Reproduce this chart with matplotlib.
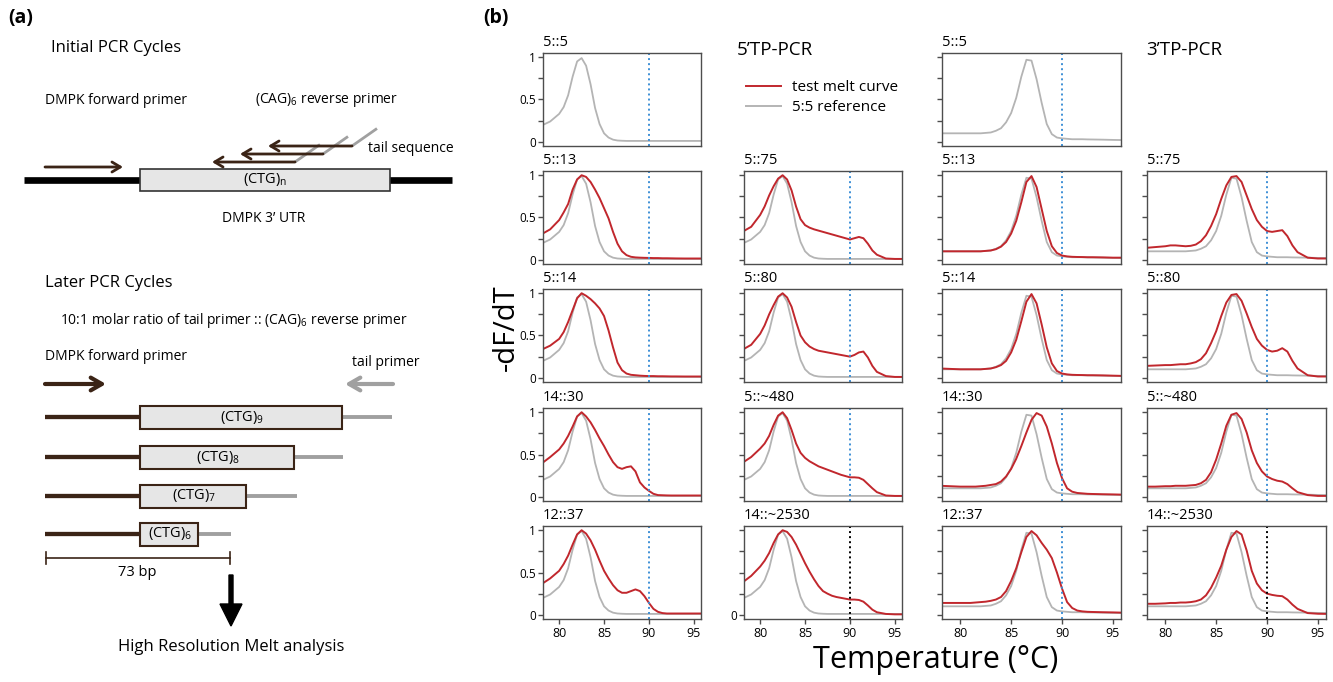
import matplotlib.pyplot as plt
from matplotlib.patches import Rectangle, FancyArrow
from matplotlib.lines import Line2D

plt.rcParams['font.family'] = ['Open Sans', 'DejaVu Sans']
plt.rcParams['mathtext.fontset'] = 'custom'
plt.rcParams['mathtext.rm'] = 'Open Sans'
plt.rcParams['mathtext.it'] = 'Open Sans:italic'

# melt curve data (-dF/dT, normalised)
temps = [78, 79, 80, 80.5, 81, 81.5, 82, 82.5, 83, 83.5, 84, 84.5, 85, 85.5, 86, 86.5,
         87, 87.5, 88, 88.5, 89, 89.5, 90, 90.5, 91, 91.5, 92, 92.5, 93, 94, 95, 96]

# 5:5 references
ref_5p = [0.19, 0.24, 0.33, 0.41, 0.55, 0.77, 0.95, 0.99, 0.90, 0.68, 0.40, 0.21, 0.10, 0.05, 0.025, 0.015,
          0.012, 0.01, 0.01, 0.01, 0.01, 0.01, 0.01, 0.01, 0.01, 0.01, 0.01, 0.01, 0.01, 0.01, 0.01, 0.01]
ref_3p = [0.10, 0.10, 0.10, 0.10, 0.10, 0.10, 0.10, 0.105, 0.11, 0.13, 0.16, 0.23, 0.34, 0.52, 0.77, 0.97,
          0.96, 0.74, 0.46, 0.21, 0.09, 0.05, 0.04, 0.035, 0.03, 0.03, 0.03, 0.028, 0.027, 0.025, 0.022, 0.02]

# 5'TP-PCR test curves
t5_13 = [0.30, 0.36, 0.47, 0.56, 0.66, 0.83, 0.95, 1.0, 0.98, 0.92, 0.83, 0.73, 0.61, 0.49, 0.33, 0.19,
         0.10, 0.055, 0.035, 0.028, 0.025, 0.023, 0.022, 0.02, 0.02, 0.018, 0.018, 0.017, 0.016, 0.015, 0.015, 0.015]
t5_14 = [0.33, 0.38, 0.46, 0.54, 0.66, 0.80, 0.94, 1.0, 0.97, 0.93, 0.88, 0.82, 0.73, 0.56, 0.36, 0.18,
         0.09, 0.05, 0.035, 0.03, 0.025, 0.022, 0.02, 0.02, 0.018, 0.018, 0.017, 0.016, 0.016, 0.015, 0.015, 0.015]
t14_30 = [0.39, 0.47, 0.56, 0.63, 0.72, 0.83, 0.95, 1.0, 0.95, 0.88, 0.79, 0.69, 0.60, 0.50, 0.41, 0.35,
          0.33, 0.35, 0.36, 0.30, 0.17, 0.11, 0.07, 0.035, 0.02, 0.018, 0.016, 0.015, 0.015, 0.015, 0.015, 0.015]
t12_37 = [0.36, 0.43, 0.52, 0.60, 0.70, 0.83, 0.95, 1.0, 0.96, 0.88, 0.77, 0.64, 0.52, 0.43, 0.35, 0.29,
          0.26, 0.26, 0.28, 0.30, 0.28, 0.22, 0.14, 0.07, 0.035, 0.02, 0.015, 0.015, 0.015, 0.015, 0.015, 0.015]
t5_75 = [0.33, 0.39, 0.53, 0.63, 0.76, 0.87, 0.96, 1.0, 0.95, 0.82, 0.63, 0.48, 0.41, 0.38, 0.36, 0.345,
         0.33, 0.315, 0.30, 0.285, 0.27, 0.255, 0.24, 0.255, 0.27, 0.255, 0.19, 0.11, 0.06, 0.015, 0.01, 0.01]
t5_80 = [0.33, 0.39, 0.52, 0.62, 0.75, 0.86, 0.96, 1.0, 0.95, 0.84, 0.66, 0.50, 0.42, 0.37, 0.34, 0.32,
         0.31, 0.30, 0.29, 0.28, 0.27, 0.26, 0.25, 0.27, 0.30, 0.31, 0.24, 0.14, 0.07, 0.02, 0.01, 0.01]
t5_480 = [0.40, 0.47, 0.57, 0.63, 0.72, 0.85, 0.96, 1.0, 0.93, 0.79, 0.63, 0.52, 0.46, 0.42, 0.39, 0.36,
          0.34, 0.32, 0.30, 0.28, 0.26, 0.245, 0.23, 0.23, 0.225, 0.20, 0.15, 0.10, 0.055, 0.015, 0.01, 0.01]
t14_2530 = [0.38, 0.46, 0.57, 0.64, 0.73, 0.85, 0.95, 1.0, 0.98, 0.92, 0.83, 0.72, 0.61, 0.51, 0.42, 0.34,
            0.28, 0.25, 0.225, 0.21, 0.20, 0.19, 0.18, 0.18, 0.175, 0.155, 0.11, 0.06, 0.03, 0.01, 0.005, 0.005]

# 3'TP-PCR test curves
u5_13 = [0.10, 0.10, 0.10, 0.10, 0.10, 0.10, 0.10, 0.105, 0.11, 0.125, 0.155, 0.21, 0.31, 0.46, 0.68, 0.92,
         0.99, 0.86, 0.60, 0.34, 0.16, 0.08, 0.05, 0.04, 0.035, 0.033, 0.032, 0.03, 0.03, 0.028, 0.025, 0.025]
u5_14 = [0.11, 0.105, 0.10, 0.10, 0.10, 0.10, 0.10, 0.105, 0.11, 0.125, 0.15, 0.20, 0.30, 0.45, 0.67, 0.90,
         0.99, 0.88, 0.63, 0.36, 0.17, 0.08, 0.05, 0.04, 0.035, 0.033, 0.032, 0.03, 0.03, 0.028, 0.025, 0.022]
u14_30 = [0.13, 0.125, 0.12, 0.12, 0.12, 0.12, 0.125, 0.13, 0.14, 0.15, 0.18, 0.24, 0.33, 0.45, 0.60, 0.76,
          0.91, 0.99, 0.96, 0.83, 0.63, 0.40, 0.22, 0.10, 0.06, 0.045, 0.04, 0.035, 0.033, 0.03, 0.028, 0.025]
u12_37 = [0.14, 0.14, 0.14, 0.14, 0.14, 0.145, 0.15, 0.155, 0.165, 0.18, 0.21, 0.28, 0.40, 0.55, 0.74, 0.92,
          0.99, 0.94, 0.85, 0.77, 0.67, 0.50, 0.31, 0.15, 0.08, 0.05, 0.04, 0.035, 0.033, 0.03, 0.028, 0.025]
u5_75 = [0.14, 0.15, 0.16, 0.17, 0.17, 0.165, 0.16, 0.165, 0.18, 0.22, 0.29, 0.40, 0.54, 0.72, 0.88, 0.98,
         0.99, 0.92, 0.76, 0.60, 0.47, 0.39, 0.34, 0.33, 0.34, 0.35, 0.28, 0.17, 0.09, 0.025, 0.015, 0.015]
u5_80 = [0.14, 0.145, 0.15, 0.15, 0.155, 0.16, 0.16, 0.17, 0.185, 0.22, 0.29, 0.41, 0.55, 0.73, 0.89, 0.98,
         0.99, 0.91, 0.76, 0.60, 0.46, 0.38, 0.33, 0.31, 0.32, 0.35, 0.31, 0.20, 0.11, 0.03, 0.015, 0.015]
u5_480 = [0.12, 0.12, 0.125, 0.125, 0.13, 0.13, 0.13, 0.135, 0.14, 0.16, 0.20, 0.29, 0.44, 0.63, 0.84, 0.97,
          0.99, 0.92, 0.76, 0.55, 0.40, 0.30, 0.24, 0.21, 0.19, 0.18, 0.15, 0.10, 0.055, 0.02, 0.01, 0.01]
u14_2530 = [0.13, 0.13, 0.135, 0.14, 0.14, 0.145, 0.145, 0.15, 0.16, 0.18, 0.23, 0.32, 0.44, 0.58, 0.77, 0.92,
            0.99, 0.95, 0.76, 0.52, 0.37, 0.29, 0.25, 0.235, 0.225, 0.22, 0.18, 0.12, 0.07, 0.02, 0.012, 0.01]

labels_a = ['5::13', '5::14', '14::30', '12::37']
labels_b = ['5::75', '5::80', '5::~480', '14::~2530']
curves_5p_a = [t5_13, t5_14, t14_30, t12_37]
curves_5p_b = [t5_75, t5_80, t5_480, t14_2530]
curves_3p_a = [u5_13, u5_14, u14_30, u12_37]
curves_3p_b = [u5_75, u5_80, u5_480, u14_2530]

RED = '#c1272d'
GREY = '#b4b4b4'
BLUE = '#3d8fd6'
BROWN = '#3b2416'
SPINE = '#4d4d4d'

W, H = 1333, 682
fig = plt.figure(figsize=(W / 100, H / 100), dpi=100)


def px_axes(left, top, width, height):
    return fig.add_axes([left / W, 1 - (top + height) / H, width / W, height / H])


# ---------------- panel (b): melt curves ----------------
col_left = [543, 744, 942, 1147]
col_width = [158, 158, 179, 179]
row_top = [53, 171, 289, 408, 526]
row_h = 93


def draw_panel(row, col, label, curve, ref, cut_col):
    ax = px_axes(col_left[col], row_top[row], col_width[col], row_h)
    ax.plot(temps, ref, color=GREY, lw=1.3)
    if curve is not None:
        ax.plot(temps, curve, color=RED, lw=1.4)
    ax.axvline(90, color=cut_col, lw=1.4, ls=(0, (1, 1.6)))
    ax.set_xlim(78.2, 95.8)
    ax.set_ylim(-0.05, 1.05)
    ax.set_yticks([0, 0.25, 0.5, 0.75, 1])
    if col == 0:
        ax.set_yticklabels(['0', '', '0.5', '', '1'])
    elif row == 4 and col == 1:
        ax.set_yticklabels(['0', '', '', '', ''], fontsize=6)
    else:
        ax.set_yticklabels([])
    if row == 4:
        ax.set_xticks([80, 85, 90, 95])
    else:
        ax.set_xticks([])
    for s in ax.spines.values():
        s.set_color(SPINE)
        s.set_linewidth(1.0)
    ax.tick_params(axis='y', length=3.5, width=1, color=SPINE, labelsize=8.5, pad=1.5)
    ax.tick_params(axis='x', length=3.5, width=1, color=SPINE, labelsize=9, pad=2)
    ax.annotate(label, xy=(0, 1), xycoords='axes fraction', xytext=(0, 2),
                textcoords='offset points', ha='left', va='bottom', fontsize=10.5)
    return ax


draw_panel(0, 0, '5::5', None, ref_5p, BLUE)
draw_panel(0, 2, '5::5', None, ref_3p, BLUE)
for i in range(4):
    cut = 'black' if i == 3 else BLUE
    draw_panel(i + 1, 0, labels_a[i], curves_5p_a[i], ref_5p, BLUE)
    draw_panel(i + 1, 1, labels_b[i], curves_5p_b[i], ref_5p, cut)
    draw_panel(i + 1, 2, labels_a[i], curves_3p_a[i], ref_3p, BLUE)
    draw_panel(i + 1, 3, labels_b[i], curves_3p_b[i], ref_3p, cut)

fig.text(737 / W, 1 - 50 / H, '5\u2019TP-PCR', fontsize=13.5, ha='left', va='center')
fig.text(1146 / W, 1 - 50 / H, '3\u2019TP-PCR', fontsize=13.5, ha='left', va='center')

handles = [Line2D([], [], color=RED, lw=1.4), Line2D([], [], color=GREY, lw=1.4)]
fig.legend(handles, ['test melt curve', '5:5 reference'], loc='upper left',
           bbox_to_anchor=(746 / W, 1 - 80 / H), frameon=False, fontsize=11,
           handlelength=2.3, handletextpad=0.7, labelspacing=0.35,
           borderpad=0, borderaxespad=0)

fig.text(506 / W, 1 - 328 / H, '-dF/dT', rotation=90, fontsize=21, ha='center', va='center')
fig.text(936 / W, 1 - 660 / H, 'Temperature (\u00b0C)', fontsize=22, ha='center', va='center')
fig.text(483 / W, 1 - 18 / H, '(b)', fontsize=14, fontweight='bold', ha='left', va='center')

# ---------------- panel (a): TP-PCR schematic ----------------
axa = fig.add_axes([0, 0, 470 / W, 1])
axa.set_xlim(0, 470)
axa.set_ylim(H, 0)
axa.axis('off')


def arrow(x0, x1, y, color, lw, hl, hw):
    axa.annotate('', xy=(x1, y), xytext=(x0, y),
                 arrowprops=dict(arrowstyle=f'->,head_length={hl},head_width={hw}',
                                 color=color, lw=lw, shrinkA=0, shrinkB=0))


axa.text(8, 18, '(a)', fontsize=14, fontweight='bold', ha='left', va='center')

# initial cycles
axa.text(51, 48, 'Initial PCR Cycles', fontsize=12, ha='left', va='center')
axa.text(45, 100, 'DMPK forward primer', fontsize=10, ha='left', va='center')
axa.text(255, 100, '(CAG)$_6$ reverse primer', fontsize=10, ha='left', va='center')
axa.text(368, 148, 'tail sequence', fontsize=10, ha='left', va='center')
axa.plot([24, 452], [180, 180], color='black', lw=4.8, solid_capstyle='butt')
axa.add_patch(Rectangle((140, 169), 250, 22, facecolor='#e6e6e6', edgecolor='#333333', lw=1.2, zorder=3))
axa.text(265, 180, '(CTG)$_\\mathrm{n}$', fontsize=10.5, ha='center', va='center', zorder=4)
axa.text(264, 218, 'DMPK 3\u2019 UTR', fontsize=10, ha='center', va='center')
arrow(45, 123, 167, BROWN, 2.0, 0.6, 0.36)
for x_tail, x_tip, y in [(352, 268, 146), (323, 240, 154), (295, 212, 162)]:
    axa.plot([x_tail, x_tail + 25], [y, y - 17.5], color='#a0a0a0', lw=2.0, solid_capstyle='butt')
    arrow(x_tail, x_tip, y, BROWN, 2.0, 0.6, 0.36)

# later cycles
axa.text(45, 283, 'Later PCR Cycles', fontsize=12, ha='left', va='center')
axa.text(60, 320, '10:1 molar ratio of tail primer :: (CAG)$_6$ reverse primer', fontsize=10,
         ha='left', va='center')
axa.text(45, 357, 'DMPK forward primer', fontsize=10, ha='left', va='center')
axa.text(352, 362, 'tail primer', fontsize=10, ha='left', va='center')
arrow(45, 106, 384, BROWN, 3.0, 0.8, 0.46)
arrow(393, 345, 384, '#a0a0a0', 3.0, 0.8, 0.46)

frag_repeats = [9, 8, 7, 6]
frag_y = [417, 457, 496, 534]
box_right = [342, 294, 246, 198]
tail_end = [392, 343, 297, 231]
for n, y, xr, xe in zip(frag_repeats, frag_y, box_right, tail_end):
    axa.plot([45, 140], [y, y], color=BROWN, lw=3.1, solid_capstyle='butt')
    axa.plot([xr, xe], [y, y], color='#a0a0a0', lw=2.8, solid_capstyle='butt')
    axa.add_patch(Rectangle((140, y - 11.5), xr - 140, 23, facecolor='#e6e6e6',
                            edgecolor=BROWN, lw=1.5, zorder=3))
    axa.text((140 + xr) / 2 + 1, y, f'(CTG)$_{n}$', fontsize=10.5, ha='center', va='center', zorder=4)

axa.plot([46, 230], [558, 558], color=BROWN, lw=1.2)
axa.plot([46, 46], [552, 564], color=BROWN, lw=1.2)
axa.plot([230, 230], [552, 564], color=BROWN, lw=1.2)
axa.text(137, 573, '73 bp', fontsize=10.5, ha='center', va='center')
axa.add_patch(FancyArrow(231, 575, 0, 51, width=4, head_width=22, head_length=22,
                         length_includes_head=True, color='black'))
axa.text(231, 647, 'High Resolution Melt analysis', fontsize=12, ha='center', va='center')

fig.savefig('out.png', dpi=100)
